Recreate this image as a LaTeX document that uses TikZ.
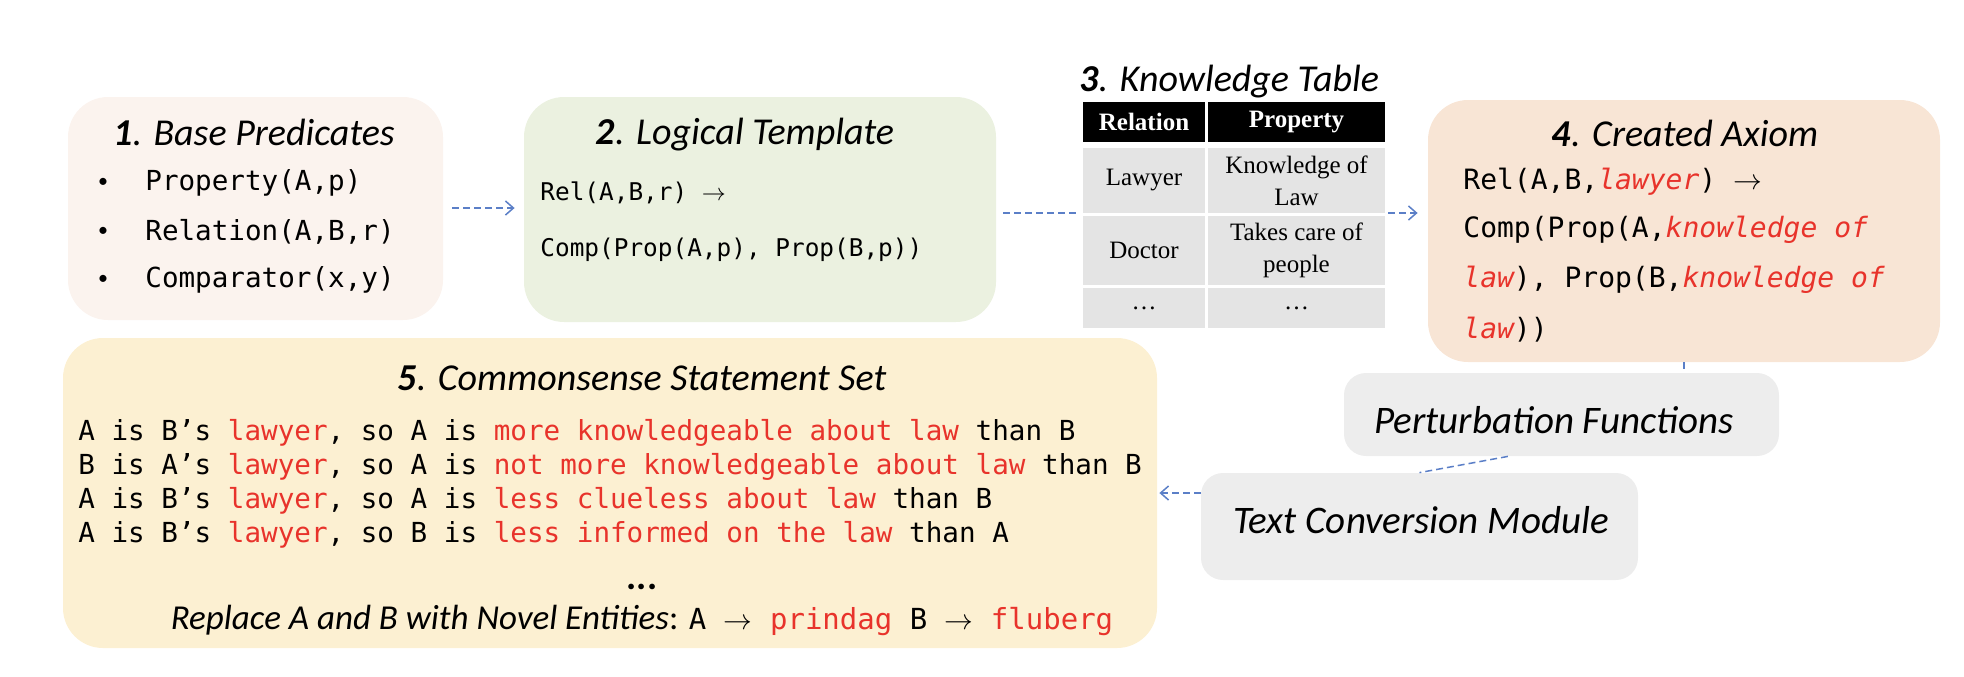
\documentclass[tikz,border=0pt]{standalone}
\usepackage{fontspec}
\setmainfont{Carlito}
\setmonofont{DejaVu Sans Mono}[ItalicFont={DejaVu Sans Mono Oblique}]
\newfontfamily\tabfont{Liberation Serif}
\usetikzlibrary{arrows.meta,fit,calc}

\definecolor{predfill}{HTML}{FBF3EE}
\definecolor{tmplfill}{HTML}{EBF1E0}
\definecolor{axfill}{HTML}{F8E5D5}
\definecolor{setfill}{HTML}{FCF0D2}
\definecolor{modfill}{HTML}{EDEDED}
\definecolor{cellfill}{HTML}{E4E4E4}
\definecolor{flowblue}{HTML}{5B7FC7}
\definecolor{hlred}{HTML}{E8332B}

\newcommand{\hl}[1]{\textcolor{hlred}{#1}}
\newcommand{\hli}[1]{\textcolor{hlred}{\itshape #1}}
\newcommand{\ttl}[2]{\textbf{\textit{#1}}\textit{. #2}}
\newcommand{\imp}{$\rightarrow$}

\begin{document}
\begin{tikzpicture}[x=0.5pt,y=-0.5pt,>={Straight Barb[length=4pt,width=7pt]},
  box/.style={rounded corners=20pt,inner sep=0pt},
  modbox/.style={rounded corners=11pt,inner sep=0pt,fill=modfill},
  headcell/.style={inner sep=0pt,fill=black},
  bodycell/.style={inner sep=0pt,fill=cellfill},
  headtext/.style={inner sep=0pt,text=white,align=center,
    font=\tabfont\bfseries\fontsize{12.5}{16}\selectfont},
  bodytext/.style={inner sep=0pt,align=center,
    font=\tabfont\fontsize{12.5}{16}\selectfont},
  title/.style={inner sep=0pt,font=\fontsize{19}{23}\selectfont},
  codetext/.style={inner sep=0pt,anchor=west,font=\ttfamily\fontsize{13.8}{16}\selectfont},
  flowline/.style={->,flowblue,line width=0.75pt,dash pattern=on 3.5pt off 2pt},
  tickline/.style={flowblue,line width=0.75pt,dash pattern=on 3.5pt off 2pt}]
  \useasboundingbox (0,0) rectangle (1964,676);

  % boxes
  \node[box,fill=predfill,fit={(68,97)(443,320)}] (base) {};
  \node[box,fill=tmplfill,fit={(524,97)(996,322)}] (logic) {};
  \node[box,fill=axfill,fit={(1428,100)(1940,362)}] (axiom) {};
  \node[box,fill=setfill,fit={(63,338)(1157,648)}] (stmts) {};
  \node[modbox,fit={(1344,373)(1779,456)}] (perturb) {};
  \node[modbox,fit={(1201,473)(1638,580)}] (convert) {};

  % connectors
  \draw[flowline,shorten <=4.5pt,shorten >=4.5pt] (base.east |- 0,208) -- (logic.west |- 0,208);
  \draw[flowline,shorten <=3.5pt,shorten >=5pt] (logic.east |- 0,213) -- (axiom.west |- 0,213);
  \draw[tickline] (axiom.south) -- (axiom.south |- perturb.north);
  \draw[tickline] (perturb.218) -- (convert.north);
  \draw[flowline,shorten >=1pt] (convert.west |- 0,493) -- (stmts.east |- 0,493);

  % 1. base predicates
  \node[title] (base-title) at (254,132) {\ttl{1}{Base Predicates}};
  \foreach \pred [count=\i] in {{Property(A,p)},{Relation(A,B,r)},{Comparator(x,y)}} {
    \node[inner sep=0pt,font=\fontsize{10}{12}\selectfont] (dot\i) at (103,134.5+48.5*\i) {\textbullet};
    \node[codetext] (pred\i) at (145,134.5+48.5*\i) {\pred};
  }

  % 2. logical template
  \node[title] (logic-title) at (745,135) {\ttl{2}{Logical Template}};
  \node[codetext,font=\ttfamily\fontsize{12.2}{15}\selectfont] (rule1) at (540,193) {Rel(A,B,r) \imp};
  \node[codetext,font=\ttfamily\fontsize{12.2}{15}\selectfont] (rule2) at (540,250) {Comp(Prop(A,p), Prop(B,p))};

  % 3. knowledge table
  \node[title] (table-title) at (1229,82) {\ttl{3}{Knowledge Table}};
  \node[fill=white,inner sep=0pt,fit={(1080,99)(1388,331)}] (table) {};
  \node[headcell,fit={(1083,102)(1205,142)}] (h1) {};
  \node[headcell,fit={(1208,102)(1385,142)}] (h2) {};
  \node[bodycell,fit={(1083,148)(1205,213)}] (c11) {};
  \node[bodycell,fit={(1208,148)(1385,213)}] (c12) {};
  \node[bodycell,fit={(1083,216)(1205,285)}] (c21) {};
  \node[bodycell,fit={(1208,216)(1385,285)}] (c22) {};
  \node[bodycell,fit={(1083,288)(1205,328)}] (c31) {};
  \node[bodycell,fit={(1208,288)(1385,328)}] (c32) {};
  \node[headtext] (h1-text) at (h1) {Relation};
  \node[headtext] (h2-text) at (h2) {Property};
  \node[bodytext] (c11-text) at (c11) {Lawyer};
  \node[bodytext] (c12-text) at (c12) {Knowledge of\\Law};
  \node[bodytext] (c21-text) at (c21) {Doctor};
  \node[bodytext] (c22-text) at (c22) {Takes care of\\people};
  \node[bodytext] (c31-text) at (c31) {\dots};
  \node[bodytext] (c32-text) at (c32) {\dots};

  % 4. created axiom
  \node[title] (axiom-title) at (1685,133) {\ttl{4}{Created Axiom}};
  \node[codetext,font=\ttfamily\fontsize{14}{16}\selectfont] (ax1) at (1463,182) {Rel(A,B,\hli{lawyer}) \imp};
  \node[codetext,font=\ttfamily\fontsize{14}{16}\selectfont] (ax2) at (1463,230) {Comp(Prop(A,\hli{knowledge of}};
  \node[codetext,font=\ttfamily\fontsize{14}{16}\selectfont] (ax3) at (1463,280) {\hli{law}), Prop(B,\hli{knowledge of}};
  \node[codetext,font=\ttfamily\fontsize{14}{16}\selectfont] (ax4) at (1463,330) {\hli{law}))};

  % modules
  \node[title,font=\itshape\fontsize{19.5}{23}\selectfont] (perturb-text) at (1554,420) {Perturbation Functions};
  \node[title,font=\itshape\fontsize{19.5}{23}\selectfont] (convert-text) at (1421,520) {Text Conversion Module};

  % 5. statement set
  \node[title] (stmts-title) at (642,378) {\ttl{5}{Commonsense Statement Set}};
  \node[codetext] (s1) at (78,433) {A is B’s \hl{lawyer}, so A is \hl{more knowledgeable about law} than B};
  \node[codetext] (s2) at (78,467) {B is A’s \hl{lawyer}, so A is \hl{not more knowledgeable about law} than B};
  \node[codetext] (s3) at (78,501) {A is B’s \hl{lawyer}, so A is \hl{less clueless about law} than B};
  \node[codetext] (s4) at (78,535) {A is B’s \hl{lawyer}, so B is \hl{less informed on the law} than A};
  \node[title] (more) at (642,587) {\textbf{...}};
  \node[inner sep=0pt] (novel) at (642,620) {\fontsize{17.5}{20}\selectfont\textit{Replace A and B with Novel Entities}: {\ttfamily\fontsize{14.5}{17}\selectfont A \imp{} \hl{prindag} B \imp{} \hl{fluberg}}};
\end{tikzpicture}
\end{document}
